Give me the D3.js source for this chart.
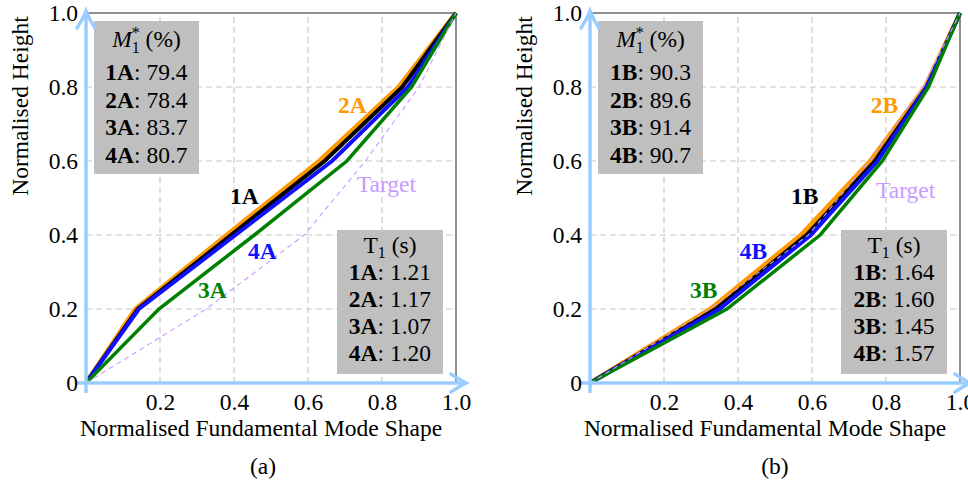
<!DOCTYPE html>
<html>
<head>
<meta charset="utf-8">
<script src="https://cdn.jsdelivr.net/npm/d3@7"></script>
<style>
  body { margin: 0; background: #fff; }
  svg { display: block; }
  text { font-family: "Liberation Serif", "DejaVu Serif", serif; }
</style>
</head>
<body>
<svg id="chart" width="968" height="482"></svg>
<script>
// storey heights (normalised) and mode shape ordinates
var heights = [0, 0.2, 0.4, 0.6, 0.8, 1.0];

var shape1A = [0, 0.140, 0.392, 0.645, 0.855, 1.0];
var shape2A = [0, 0.133, 0.380, 0.630, 0.845, 1.0];
var shape3A = [0, 0.197, 0.455, 0.705, 0.880, 1.0];
var shape4A = [0, 0.143, 0.404, 0.665, 0.870, 1.0];

var shape1B = [0, 0.340, 0.585, 0.770, 0.910, 1.0];
var shape2B = [0, 0.325, 0.570, 0.757, 0.905, 1.0];
var shape3B = [0, 0.370, 0.622, 0.790, 0.915, 1.0];
var shape4B = [0, 0.350, 0.597, 0.777, 0.910, 1.0];

var targetShape = [0, 0.325, 0.590, 0.755, 0.900, 1.0];

var casesA = ["1A", "2A", "3A", "4A"];
var casesB = ["1B", "2B", "3B", "4B"];
var massA = ["79.4", "78.4", "83.7", "80.7"];
var massB = ["90.3", "89.6", "91.4", "90.7"];
var periodA = ["1.21", "1.17", "1.07", "1.20"];
var periodB = ["1.64", "1.60", "1.45", "1.57"];

var xTicks = [0.2, 0.4, 0.6, 0.8, 1.0];
var yTicks = [0, 0.2, 0.4, 0.6, 0.8, 1.0];
var gridTicks = [0.2, 0.4, 0.6, 0.8];

var colors = { c1: "#000000", c2: "#ff9900", c3: "#008000", c4: "#1010ff", target: "#c899ff" };
var axisBlue = "#99ccff";
var fs = 23.5;

var svg = d3.select("#chart");

function drawPanel(p) {
    var x = d3.scaleLinear().domain([0, 1]).range([p.x0, p.x0 + 370]);
    var y = d3.scaleLinear().domain([0, 1]).range([383, 13]);
    var g = svg.append("g");

    // grid
    g.selectAll(".gx").data(gridTicks).enter().append("line")
        .attr("x1", function (d) { return x(d); }).attr("x2", function (d) { return x(d); })
        .attr("y1", y(0)).attr("y2", y(1))
        .attr("stroke", "#c8c8c8").attr("stroke-width", 1.2).attr("stroke-dasharray", "6,4");
    g.selectAll(".gy").data(gridTicks).enter().append("line")
        .attr("y1", function (d) { return y(d); }).attr("y2", function (d) { return y(d); })
        .attr("x1", x(0)).attr("x2", x(1))
        .attr("stroke", "#c8c8c8").attr("stroke-width", 1.2).attr("stroke-dasharray", "6,4");

    // frame
    g.append("rect").attr("x", x(0)).attr("y", y(1))
        .attr("width", x(1) - x(0)).attr("height", y(0) - y(1))
        .attr("fill", "none").attr("stroke", "#444").attr("stroke-width", 1.2);

    // legend boxes
    var b1 = g.append("g");
    b1.append("rect").attr("x", p.x0 + 8).attr("y", 21).attr("width", 105).attr("height", 153).attr("fill", "#bfbfbf");
    var t1 = b1.append("text").attr("x", p.x0 + 60.5).attr("y", 47).attr("text-anchor", "middle").attr("font-size", fs);
    t1.append("tspan").attr("font-style", "italic").text("M");
    t1.append("tspan").attr("font-size", 16).attr("dy", 6).text("1");
    t1.append("tspan").attr("font-size", 16).attr("dx", -8).attr("dy", -15).text("*");
    t1.append("tspan").attr("dy", 9).text(" (%)");
    p.cases.forEach(function (c, i) {
        var t = b1.append("text").attr("x", p.x0 + 60.5).attr("y", 80 + i * 27.5)
            .attr("text-anchor", "middle").attr("font-size", fs);
        t.append("tspan").attr("font-weight", "bold").text(c);
        t.append("tspan").text(": " + p.mass[i]);
    });

    var b2 = g.append("g");
    b2.append("rect").attr("x", p.x0 + 251).attr("y", 230).attr("width", 106).attr("height", 144).attr("fill", "#bfbfbf");
    var t2 = b2.append("text").attr("x", p.x0 + 304).attr("y", 253).attr("text-anchor", "middle").attr("font-size", fs);
    t2.append("tspan").text("T");
    t2.append("tspan").attr("font-size", 16).attr("dy", 5).text("1");
    t2.append("tspan").attr("dy", -5).text(" (s)");
    p.cases.forEach(function (c, i) {
        var t = b2.append("text").attr("x", p.x0 + 304).attr("y", 280 + i * 27)
            .attr("text-anchor", "middle").attr("font-size", fs);
        t.append("tspan").attr("font-weight", "bold").text(c);
        t.append("tspan").text(": " + p.period[i]);
    });

    // mode shapes
    var line = d3.line()
        .x(function (d) { return x(d[0]); })
        .y(function (d) { return y(d[1]); });
    p.series.forEach(function (s) {
        g.append("path")
            .datum(d3.zip(s.values, heights))
            .attr("d", line)
            .attr("fill", "none")
            .attr("stroke", s.color)
            .attr("stroke-width", s.width)
            .attr("stroke-linejoin", "miter")
            .attr("stroke-dasharray", s.dash || null);
    });
    p.series.forEach(function (s) {
        g.append("text")
            .attr("x", x(s.lx)).attr("y", y(s.ly))
            .attr("font-size", fs)
            .attr("font-weight", s.dash ? "normal" : "bold")
            .attr("fill", s.color)
            .text(s.name);
    });

    // axes with arrows
    g.append("line").attr("x1", x(0)).attr("x2", x(0)).attr("y1", 393).attr("y2", 13)
        .attr("stroke", axisBlue).attr("stroke-width", 3.5);
    g.append("path")
        .attr("d", "M" + (x(0) - 9) + ",28 Q" + (x(0) - 3) + ",19 " + x(0) + ",11 Q" + (x(0) + 3) + ",19 " + (x(0) + 9) + ",28")
        .attr("fill", "none").attr("stroke", axisBlue).attr("stroke-width", 3.5).attr("stroke-linecap", "round");
    g.append("line").attr("x1", x(0) - 10).attr("x2", x(1) + 8).attr("y1", y(0)).attr("y2", y(0))
        .attr("stroke", axisBlue).attr("stroke-width", 3.5);
    var tx = x(1) + 10;
    g.append("path")
        .attr("d", "M" + (tx - 15) + "," + (y(0) - 9) + " Q" + (tx - 6) + "," + (y(0) - 3) + " " + tx + "," + y(0) +
            " Q" + (tx - 6) + "," + (y(0) + 3) + " " + (tx - 15) + "," + (y(0) + 9))
        .attr("fill", "none").attr("stroke", axisBlue).attr("stroke-width", 3.5).attr("stroke-linecap", "round");

    // tick labels
    var ax = g.append("g").attr("transform", "translate(0," + y(0) + ")")
        .call(d3.axisBottom(x).tickValues(xTicks).tickSize(0).tickPadding(10).tickFormat(d3.format(".1f")));
    var ay = g.append("g").attr("transform", "translate(" + x(0) + ",0)")
        .call(d3.axisLeft(y).tickValues(yTicks).tickSize(0).tickPadding(8)
            .tickFormat(function (d) { return d === 0 ? "0" : d3.format(".1f")(d); }));
    [ax, ay].forEach(function (a) {
        a.select(".domain").remove();
        a.selectAll("text").attr("font-size", fs).attr("fill", "#000")
            .attr("font-family", "Liberation Serif, serif");
    });

    // titles
    g.append("text").attr("transform", "translate(" + (p.x0 - 58) + ",106) rotate(-90)")
        .attr("text-anchor", "middle").attr("font-size", fs).text("Normalised Height");
    g.append("text").attr("x", p.x0 + 175).attr("y", 436)
        .attr("text-anchor", "middle").attr("font-size", fs).text("Normalised Fundamental Mode Shape");
    g.append("text").attr("x", p.capX).attr("y", 474)
        .attr("text-anchor", "middle").attr("font-size", fs).text(p.caption);
}

drawPanel({
    x0: 86, capX: 263, caption: "(a)",
    cases: casesA, mass: massA, period: periodA,
    series: [
        { name: "2A", values: shape2A, color: colors.c2, width: 4.5, lx: 0.681, ly: 0.730 },
        { name: "1A", values: shape1A, color: colors.c1, width: 4, lx: 0.389, ly: 0.484 },
        { name: "4A", values: shape4A, color: colors.c4, width: 4, lx: 0.438, ly: 0.335 },
        { name: "3A", values: shape3A, color: colors.c3, width: 3.5, lx: 0.303, ly: 0.230 },
        { name: "Target", values: targetShape, color: colors.target, width: 1.1, dash: "5,4", lx: 0.732, ly: 0.516 }
    ]
});

drawPanel({
    x0: 590, capX: 775, caption: "(b)",
    cases: casesB, mass: massB, period: periodB,
    series: [
        { name: "2B", values: shape2B, color: colors.c2, width: 4.5, lx: 0.759, ly: 0.730 },
        { name: "1B", values: shape1B, color: colors.c1, width: 4, lx: 0.543, ly: 0.484 },
        { name: "4B", values: shape4B, color: colors.c4, width: 4, lx: 0.405, ly: 0.335 },
        { name: "3B", values: shape3B, color: colors.c3, width: 3.5, lx: 0.270, ly: 0.230 },
        { name: "Target", values: targetShape, color: colors.target, width: 1.1, dash: "5,4", lx: 0.773, ly: 0.500 }
    ]
});
</script>
</body>
</html>
